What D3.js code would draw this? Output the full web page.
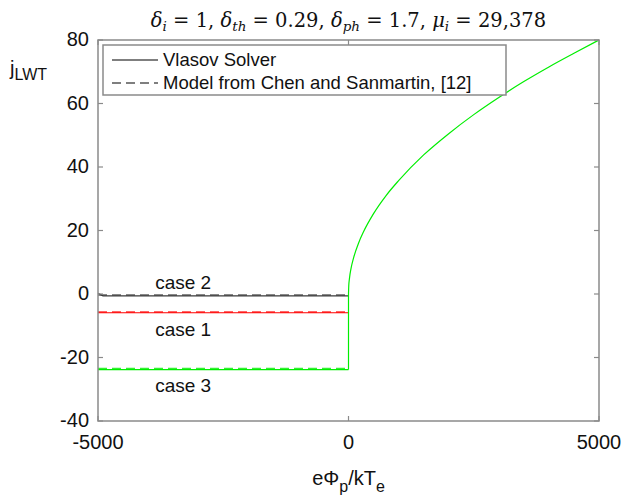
<!DOCTYPE html>
<html lang="en">
<head>
  <meta charset="UTF-8" />
  <title>j_LWT vs eΦp/kTe</title>
  <script src="https://d3js.org/d3.v7.min.js"></script>
  <style>
    body { margin: 0; background: #fff; }
    svg text { font-family: "Liberation Sans", Arial, sans-serif; fill: #111; }
    text.title { font-family: "DejaVu Serif", "Liberation Serif", serif; }
  </style>
</head>
<body>
  <svg id="chart" width="624" height="499"></svg>
  <script>
    // --- data ---
    const xTicks = [-5000, 0, 5000];
    const yTicks = [-40, -20, 0, 20, 40, 60, 80];

    // negative-bias plateaus (Vlasov solver, solid)
    const phiNeg = [-5000, -4900, -4000, -3000, -2000, -1000, 0];
    const case1Vlasov = [-5.9, -5.9, -5.9, -5.9, -5.9, -5.9, -5.9];
    const case2Vlasov = [0.2, -0.6, -0.6, -0.6, -0.6, -0.6, -0.6];
    const case3Vlasov = [-23.8, -23.8, -23.8, -23.8, -23.8, -23.8, -23.8];

    // model from Chen and Sanmartin (dashed)
    const case1Model = [-5.7, -5.7, -5.7, -5.7, -5.7, -5.7, -5.7];
    const case2Model = [-0.3, -0.3, -0.3, -0.3, -0.3, -0.3, -0.3];
    const case3Model = [-23.5, -23.5, -23.5, -23.5, -23.5, -23.5, -23.5];

    // positive-bias branch (case 3 curve, green)
    const phiPos = [0, 0, 5, 20, 50, 100, 200, 300, 500, 750, 1000, 1500, 2000, 2500, 3000, 3500, 4000, 4500, 5000];
    const jPos = [-23.8, 0, 2.5, 5, 8, 11.3, 16, 19.6, 25.3, 31, 35.7, 43.8, 50.5, 56.5, 61.9, 66.9, 71.5, 75.8, 80];

    const cases = [
      { name: "case 1", color: "#ff0000", vlasov: case1Vlasov, model: case1Model, labelY: -13.3 },
      { name: "case 2", color: "#3a3a3a", vlasov: case2Vlasov, model: case2Model, labelY: 1.7 },
      { name: "case 3", color: "#00ee00", vlasov: case3Vlasov, model: case3Model, labelY: -30.8 }
    ];

    const svg = d3.select("#chart");
    const margin = { left: 98, right: 25, top: 40, bottom: 78 };
    const W = 624, H = 499;

    const x = d3.scaleLinear().domain([-5000, 5000]).range([margin.left, W - margin.right]);
    const y = d3.scaleLinear().domain([-40, 80]).range([H - margin.bottom, margin.top]);

    const axisColor = "#8a8a8a";
    const x0 = margin.left, x1 = W - margin.right, y0 = margin.top, y1 = H - margin.bottom;

    // lines
    const line = d3.line().x(d => x(d[0])).y(d => y(d[1]));
    const smooth = d3.line().x(d => x(d[0])).y(d => y(d[1])).curve(d3.curveMonotoneX);

    const plot = svg.append("g");
    cases.forEach(c => {
      plot.append("path")
        .attr("d", line(phiNeg.map((p, i) => [p, c.model[i]])))
        .attr("fill", "none").attr("stroke", c.color).attr("stroke-width", 1.5)
        .attr("stroke-dasharray", "9,5").attr("opacity", 0.8);
      plot.append("path")
        .attr("d", line(phiNeg.map((p, i) => [p, c.vlasov[i]])))
        .attr("fill", "none").attr("stroke", c.color).attr("stroke-width", 1.2);
      plot.append("text")
        .attr("x", x(-3300)).attr("y", y(c.labelY))
        .attr("text-anchor", "middle").attr("font-size", 19)
        .text(c.name);
    });

    // case 3 positive branch
    plot.append("path")
      .attr("d", line(phiPos.slice(0, 2).map((p, i) => [p, jPos[i]])))
      .attr("fill", "none").attr("stroke", "#00ee00").attr("stroke-width", 1.2);
    plot.append("path")
      .attr("d", smooth(phiPos.slice(1).map((p, i) => [p, jPos[i + 1]])))
      .attr("fill", "none").attr("stroke", "#00ee00").attr("stroke-width", 1.2);

    // axes box
    svg.append("rect")
      .attr("x", x0).attr("y", y0).attr("width", x1 - x0).attr("height", y1 - y0)
      .attr("fill", "none").attr("stroke", axisColor).attr("stroke-width", 1.5);

    const tl = 5;
    const ticks = svg.append("g").attr("stroke", axisColor).attr("stroke-width", 1.2);
    yTicks.forEach(t => {
      ticks.append("line").attr("x1", x0).attr("x2", x0 + tl).attr("y1", y(t)).attr("y2", y(t));
      ticks.append("line").attr("x1", x1).attr("x2", x1 - tl).attr("y1", y(t)).attr("y2", y(t));
    });
    xTicks.forEach(t => {
      ticks.append("line").attr("x1", x(t)).attr("x2", x(t)).attr("y1", y1).attr("y2", y1 - tl);
      ticks.append("line").attr("x1", x(t)).attr("x2", x(t)).attr("y1", y0).attr("y2", y0 + tl);
    });

    // tick labels
    svg.append("g").selectAll("text").data(yTicks).join("text")
      .attr("x", x0 - 9).attr("y", d => y(d) + 6)
      .attr("text-anchor", "end").attr("font-size", 20)
      .text(d => d);
    svg.append("g").selectAll("text").data(xTicks).join("text")
      .attr("x", d => x(d)).attr("y", y1 + 28)
      .attr("text-anchor", "middle").attr("font-size", 20)
      .text(d => d);

    // axis labels
    const yl = svg.append("text").attr("x", 10).attr("y", 75).attr("font-size", 20);
    yl.append("tspan").text("j");
    yl.append("tspan").attr("dy", 5).attr("font-size", 16).text("LWT");

    const xl = svg.append("text").attr("x", (x0 + x1) / 2).attr("y", y1 + 64)
      .attr("text-anchor", "middle").attr("font-size", 20);
    xl.append("tspan").text("eΦ");
    xl.append("tspan").attr("dy", 7).attr("font-size", 16).text("p");
    xl.append("tspan").attr("dy", -7).text("/kT");
    xl.append("tspan").attr("dy", 7).attr("font-size", 16).text("e");

    // title (math style)
    const title = svg.append("text").attr("class", "title")
      .attr("x", (x0 + x1) / 2).attr("y", 27)
      .attr("text-anchor", "middle").attr("font-size", 19.5);
    const parts = [
      ["δ", "i", " = 1, "], ["δ", "th", " = 0.29, "], ["δ", "ph", " = 1.7, "], ["μ", "i", " = 29,378"]
    ];
    parts.forEach(([g, s, rest]) => {
      title.append("tspan").attr("font-style", "italic").text(g);
      title.append("tspan").attr("font-style", "italic").attr("font-size", 13.5).attr("dy", 4).text(s);
      title.append("tspan").attr("dy", -4).text(rest);
    });

    // legend
    const lg = svg.append("g");
    lg.append("rect").attr("x", 103).attr("y", 45).attr("width", 403).attr("height", 50)
      .attr("fill", "#fff").attr("stroke", axisColor).attr("stroke-width", 1.5);
    const legendItems = [
      { label: "Vlasov Solver", dash: null, yy: 60 },
      { label: "Model from Chen and Sanmartin, [12]", dash: "9,5", yy: 83 }
    ];
    legendItems.forEach(it => {
      lg.append("line").attr("x1", 112).attr("x2", 158).attr("y1", it.yy).attr("y2", it.yy)
        .attr("stroke", "#555").attr("stroke-width", 1.3)
        .attr("stroke-dasharray", it.dash);
      lg.append("text").attr("x", 163).attr("y", it.yy + 6).attr("font-size", 18.5).text(it.label);
    });
  </script>
</body>
</html>
